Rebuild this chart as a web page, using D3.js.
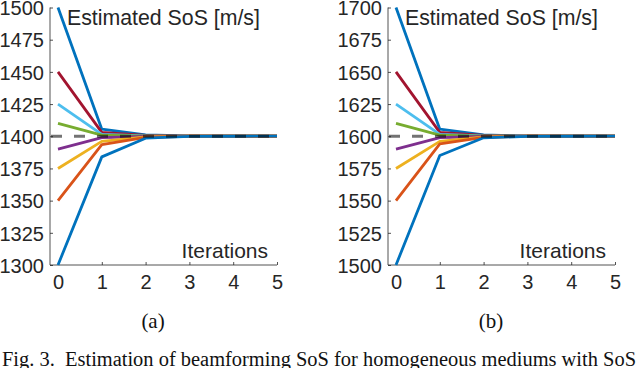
<!DOCTYPE html>
<html><head><meta charset="utf-8">
<script src="https://cdn.jsdelivr.net/npm/d3@7"></script>
<style>body{margin:0;background:#fff}svg{display:block}</style>
</head><body><svg id="c" width="640" height="368"></svg>
<script>
const iterations = [0, 1, 2, 3, 4, 5];
const seriesColors = ["#0072BD", "#A2142F", "#4DBEEE", "#77AC30", "#7E2F8E", "#EDB120", "#D95319", "#0072BD"];
const seriesA = [
  [1500, 1405.5, 1401, 1400.2, 1400.1, 1400.1],
  [1450, 1403, 1400.6, 1400.1, 1400, 1400],
  [1425, 1401.5, 1400.3, 1400, 1400, 1400],
  [1410, 1400.8, 1400.1, 1400, 1400, 1400],
  [1390, 1399, 1399.8, 1400, 1400, 1400],
  [1375, 1396, 1399.5, 1400, 1400, 1400],
  [1350, 1393.5, 1399.2, 1400, 1400, 1400],
  [1300, 1384, 1398.5, 1399.9, 1400, 1400.1]
];
const seriesB = [
  [1700, 1605.5, 1601, 1600.2, 1600.1, 1600.1],
  [1650, 1603, 1600.6, 1600.1, 1600, 1600],
  [1625, 1601.5, 1600.3, 1600, 1600, 1600],
  [1610, 1600.8, 1600.1, 1600, 1600, 1600],
  [1590, 1599, 1599.8, 1600, 1600, 1600],
  [1575, 1596, 1599.5, 1600, 1600, 1600],
  [1550, 1594, 1599.2, 1600, 1600, 1600],
  [1500, 1585, 1598.8, 1599.9, 1600, 1600.1]
];
const yTicksA = [1300, 1325, 1350, 1375, 1400, 1425, 1450, 1475, 1500];
const yTicksB = [1500, 1525, 1550, 1575, 1600, 1625, 1650, 1675, 1700];
const trueA = 1400, trueB = 1600;
const panelLabels = ["(a)", "(b)"];
const yLabel = "Estimated SoS [m/s]";
const xLabel = "Iterations";
const caption = "Fig. 3.  Estimation of beamforming SoS for homogeneous mediums with SoS";

const svg = d3.select("#c");
const sans = "'Liberation Sans', Arial, sans-serif";

function panel(ox, series, yTicks, trueVal, label) {
  const x = d3.scaleLinear([0, 5], [ox + 8, ox + 227]);
  const y = d3.scaleLinear([yTicks[0], yTicks[yTicks.length - 1]], [265, 7.5]);
  const g = svg.append("g");
  const left = ox;
  const yAxis = d3.axisLeft(y).tickValues(yTicks).tickSize(-3).tickPadding(6).tickFormat(d3.format("d"));
  const ga = g.append("g").attr("transform", `translate(${left},0)`).call(yAxis);
  ga.select(".domain").attr("stroke", "#262626").attr("stroke-width", 0.8).attr("d", `M0,${y.range()[1]}V${y.range()[0]}`);
  ga.selectAll(".tick line").attr("stroke", "#262626").attr("stroke-width", 0.8);
  ga.selectAll(".tick text").attr("font-family", sans).attr("font-size", 20).attr("fill", "#262626").attr("dy", "0.36em");
  const xAxis = d3.axisBottom(x).tickValues(iterations).tickSize(-3).tickPadding(10).tickFormat(d3.format("d"));
  const gx = g.append("g").attr("transform", `translate(0,265)`).call(xAxis);
  gx.select(".domain").attr("stroke", "#262626").attr("stroke-width", 0.8).attr("d", `M${left},0H${x(5)}`);
  gx.selectAll(".tick line").attr("stroke", "#262626").attr("stroke-width", 0.8);
  gx.selectAll(".tick text").attr("font-family", sans).attr("font-size", 20).attr("fill", "#262626").attr("dy", "0.71em");

  const line = d3.line().x((d, i) => x(iterations[i])).y(d => y(d));
  series.forEach((s, k) => {
    g.append("path").attr("d", line(s)).attr("fill", "none")
      .attr("stroke", seriesColors[k]).attr("stroke-width", 2.8).attr("stroke-linejoin", "round");
  });
  g.append("line").attr("x1", left + 1).attr("x2", x(5)).attr("y1", y(trueVal)).attr("y2", y(trueVal))
    .attr("stroke", "#000").attr("stroke-opacity", 0.55).attr("stroke-width", 2.8).attr("stroke-dasharray", "11,12");

  g.append("text").attr("x", left + 17).attr("y", 25).text(yLabel)
    .attr("font-family", sans).attr("font-size", 21.3).attr("fill", "#262626");
  g.append("text").attr("x", x(5) - 9).attr("y", 258).attr("text-anchor", "end").text(xLabel)
    .attr("font-family", sans).attr("font-size", 21).attr("fill", "#262626");
  g.append("text").attr("x", x(2.17)).attr("y", 328).attr("text-anchor", "middle").text(label)
    .attr("font-family", "'Liberation Serif', 'Times New Roman', serif").attr("font-size", 21).attr("fill", "#111");
}

panel(50, seriesA, yTicksA, trueA, panelLabels[0]);
panel(388, seriesB, yTicksB, trueB, panelLabels[1]);

svg.append("text").attr("x", 2).attr("y", 366).text(caption)
  .attr("font-family", "'Liberation Serif', 'Times New Roman', serif").attr("font-size", 20)
  .attr("fill", "#111").attr("xml:space", "preserve").style("white-space", "pre")
  .attr("textLength", 634).attr("lengthAdjust", "spacingAndGlyphs");
</script></body></html>
